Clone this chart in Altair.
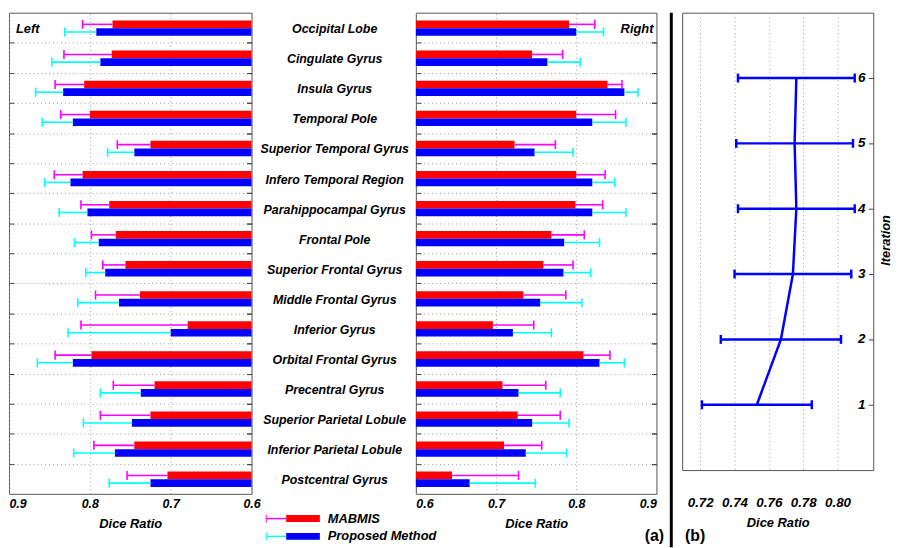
import altair as alt
import pandas as pd

FONT = "Liberation Sans"

regions = ["Occipital Lobe", "Cingulate Gyrus", "Insula Gyrus", "Temporal Pole",
           "Superior Temporal Gyrus", "Infero Temporal Region", "Parahippocampal Gyrus",
           "Frontal Pole", "Superior Frontal Gyrus", "Middle Frontal Gyrus", "Inferior Gyrus",
           "Orbital Frontal Gyrus", "Precentral Gyrus", "Superior Parietal Lobule",
           "Inferior Parietal Lobule", "Postcentral Gyrus"]
methods = ["MABMIS", "Proposed Method"]

left_mabmis_mean = [0.772, 0.773, 0.807, 0.800, 0.725, 0.809, 0.776, 0.768,
                    0.756, 0.738, 0.679, 0.798, 0.720, 0.725, 0.745, 0.704]
left_mabmis_std = [0.037, 0.059, 0.036, 0.036, 0.041, 0.035, 0.035, 0.030,
                   0.028, 0.055, 0.132, 0.045, 0.051, 0.062, 0.050, 0.050]
left_prop_mean = [0.792, 0.787, 0.833, 0.821, 0.745, 0.824, 0.803, 0.789,
                  0.781, 0.764, 0.700, 0.821, 0.737, 0.748, 0.769, 0.725]
left_prop_std = [0.039, 0.060, 0.034, 0.038, 0.033, 0.032, 0.035, 0.030,
                 0.024, 0.051, 0.127, 0.044, 0.050, 0.060, 0.051, 0.051]

right_mabmis_mean = [0.791, 0.745, 0.839, 0.800, 0.723, 0.800, 0.799, 0.769,
                     0.759, 0.734, 0.696, 0.809, 0.708, 0.727, 0.710, 0.645]
right_mabmis_std = [0.032, 0.038, 0.018, 0.049, 0.051, 0.036, 0.034, 0.041,
                    0.037, 0.053, 0.051, 0.033, 0.054, 0.053, 0.047, 0.083]
right_prop_mean = [0.800, 0.764, 0.860, 0.820, 0.748, 0.820, 0.820, 0.785,
                   0.784, 0.755, 0.721, 0.829, 0.728, 0.745, 0.737, 0.667]
right_prop_std = [0.034, 0.041, 0.017, 0.042, 0.048, 0.028, 0.042, 0.044,
                  0.034, 0.052, 0.048, 0.031, 0.052, 0.046, 0.051, 0.082]

iterations = [1, 2, 3, 4, 5, 6]
iter_mean = [0.753, 0.767, 0.774, 0.776, 0.775, 0.776]
iter_std = [0.032, 0.035, 0.034, 0.034, 0.034, 0.034]

x_ticks_a = [0.6, 0.7, 0.8, 0.9]
x_ticks_b = [0.72, 0.74, 0.76, 0.78, 0.80]

BAR_COLORS = ["#ff0000", "#0000ff"]
ERR_COLORS = ["#ff00ff", "#00ffff"]

# ---------- build table ----------
rows = []
sides = {"Left": [(left_mabmis_mean, left_mabmis_std), (left_prop_mean, left_prop_std)],
         "Right": [(right_mabmis_mean, right_mabmis_std), (right_prop_mean, right_prop_std)]}
for side, series in sides.items():
    for m, (mean, std) in enumerate(series):
        for i, r in enumerate(regions):
            y0 = i + 0.26 + 0.255 * m
            ymid = y0 + 0.1275
            rows.append(dict(side=side, method=methods[m], region=r, mean=mean[i],
                             hi=mean[i] + std[i], y0=y0, y1=y0 + 0.255, ymid=ymid,
                             cap0=ymid - 0.15, cap1=ymid + 0.15))
df = pd.DataFrame(rows)

W_A, H_A = 245, 486
W_MID = 166
W_R = 243
W_SP = 26
W_B, H_B = 193, 462

yscale = alt.Scale(domain=[0, 16], reverse=True, nice=False, zero=False)
fill_scale = alt.Scale(domain=methods, range=BAR_COLORS)
err_scale = alt.Scale(domain=methods, range=ERR_COLORS)

GRID = dict(grid=True, gridDash=[1, 3], gridColor="#9a9a9a", gridWidth=1)


def side_panel(side, reverse, width):
    d = df[df.side == side]
    xs = alt.Scale(domain=[0.6, 0.9], reverse=reverse, nice=False, zero=False)
    xaxis_kw = dict(values=x_ticks_a, format=".1f", title="Dice Ratio", tickSize=0,
                    labelPadding=4, titlePadding=8, domain=False, **GRID)
    if reverse:
        xaxis_kw["labelAlign"] = {"condition": {"test": "datum.value > 0.85", "value": "left"},
                                  "value": "center"}
    xaxis = alt.Axis(**xaxis_kw)
    y_left = alt.Axis(orient="left", offset=-5, tickSize=5, values=list(range(1, 16)),
                      labels=False, domain=False, title=None, tickColor="#444", **GRID)
    y_right = alt.Axis(orient="right", offset=-5, tickSize=5, values=list(range(1, 16)),
                       labels=False, domain=False, title=None, tickColor="#444", grid=False)
    base = alt.Chart(d)
    bars = base.mark_rect().encode(
        x=alt.X("mean:Q", scale=xs, axis=xaxis),
        x2=alt.datum(0.6),
        y=alt.Y("y0:Q", scale=yscale, axis=y_left),
        y2="y1:Q",
        fill=alt.Fill("method:N", scale=fill_scale, legend=None),
    )
    err = base.mark_rule(strokeWidth=1.6).encode(
        x=alt.X("mean:Q", scale=xs, axis=xaxis),
        x2="hi:Q",
        y=alt.Y("ymid:Q", scale=yscale, axis=y_right),
        stroke=alt.Stroke("method:N", scale=err_scale, legend=None),
    )
    caps = base.mark_rule(strokeWidth=1.6).encode(
        x=alt.X("hi:Q", scale=xs, axis=xaxis),
        y=alt.Y("cap0:Q", scale=yscale, axis=y_right),
        y2="cap1:Q",
        stroke=alt.Stroke("method:N", scale=err_scale, legend=None),
    )
    label_df = pd.DataFrame({"t": [side]})
    if reverse:
        lab = alt.Chart(label_df).mark_text(align="left", baseline="middle", font=FONT,
                                            fontSize=13, fontWeight="bold", fontStyle="italic",
                                            color="black").encode(
            x=alt.value(7), y=alt.value(16), text="t:N")
    else:
        lab = alt.Chart(label_df).mark_text(align="right", baseline="middle", font=FONT,
                                            fontSize=13, fontWeight="bold", fontStyle="italic",
                                            color="black").encode(
            x=alt.value(width - 3), y=alt.value(16), text="t:N")
    return alt.layer(bars, err, caps, lab).properties(width=width, height=H_A)


left = side_panel("Left", True, W_A)
right = side_panel("Right", False, W_R)

# ---------- middle: region names + legend ----------
center_df = pd.DataFrame({"region": regions, "ypos": [i + 0.55 for i in range(len(regions))]})
names = alt.Chart(center_df).mark_text(font=FONT, fontSize=12.5, fontWeight="bold",
                                       fontStyle="italic", color="black",
                                       baseline="middle", align="center").encode(
    x=alt.value(W_MID / 2 + 1),
    y=alt.Y("ypos:Q", scale=yscale, axis=None),
    text="region:N",
)
leg_df = pd.DataFrame({"method": methods, "row": [0, 1]})
leg_y = alt.Scale(domain=[0, 1], range=[511, 529])
leg_base = alt.Chart(leg_df)
leg_line = leg_base.mark_rule(strokeWidth=1.5).encode(
    x=alt.value(15), x2=alt.value(35),
    y=alt.Y("row:Q", scale=leg_y, axis=None),
    stroke=alt.Stroke("method:N", scale=err_scale, legend=None))
leg_cap = leg_base.mark_tick(orient="vertical", size=8, thickness=1.5).encode(
    x=alt.value(15),
    y=alt.Y("row:Q", scale=leg_y, axis=None),
    color=alt.Color("method:N", scale=err_scale, legend=None))
leg_bar = leg_base.mark_rule(strokeWidth=7).encode(
    x=alt.value(35), x2=alt.value(69),
    y=alt.Y("row:Q", scale=leg_y, axis=None),
    stroke=alt.Stroke("method:N", scale=alt.Scale(domain=methods, range=BAR_COLORS), legend=None))
leg_text = leg_base.mark_text(align="left", baseline="middle", font=FONT, fontSize=13,
                              fontWeight="bold", fontStyle="italic", color="black").encode(
    x=alt.value(77),
    y=alt.Y("row:Q", scale=leg_y, axis=None),
    text="method:N")
middle = alt.layer(names, leg_line, leg_cap, leg_bar, leg_text).resolve_scale(
    y="independent", stroke="independent").properties(
    width=W_MID, height=H_A, view=alt.ViewBackground(stroke="transparent"))

# ---------- spacer with separator + panel tags ----------
sp_df = pd.DataFrame({"a": ["(a)"], "b": ["(b)"]})
sep = alt.Chart(sp_df).mark_rule(color="black", strokeWidth=3).encode(
    x=alt.value(15), y=alt.value(0), y2=alt.value(540))
tag_a = alt.Chart(sp_df).mark_text(font=FONT, fontSize=16, fontWeight="bold", color="black",
                                   align="center", baseline="middle").encode(
    x=alt.value(-2), y=alt.value(529), text="a:N")
tag_b = alt.Chart(sp_df).mark_text(font=FONT, fontSize=16, fontWeight="bold", color="black",
                                   align="center", baseline="middle").encode(
    x=alt.value(39), y=alt.value(529), text="b:N")
spacer = alt.layer(sep, tag_a, tag_b).properties(
    width=W_SP, height=H_A, view=alt.ViewBackground(stroke="transparent"))

# ---------- panel (b) ----------
bdf = pd.DataFrame({"iter": iterations, "mean": iter_mean, "std": iter_std})
bdf["lo"] = bdf["mean"] - bdf["std"]
bdf["hi"] = bdf["mean"] + bdf["std"]
xsb = alt.Scale(domain=[0.7095, 0.8208], nice=False, zero=False)
ysb = alt.Scale(domain=[0, 7], nice=False, zero=False)
bx_axis = alt.Axis(values=x_ticks_b, format=".2f", title="Dice Ratio", tickSize=0,
                   labelPadding=26, titlePadding=8, labelFontSize=13.5, domain=False, **GRID)
by_axis = alt.Axis(orient="right", offset=-5, tickSize=5, values=iterations,
                   labels=False, domain=False, title=None, grid=False, tickColor="#444")
bbase = alt.Chart(bdf)
berr = bbase.mark_rule(color="#0000ff", strokeWidth=2.5).encode(
    x=alt.X("lo:Q", scale=xsb, axis=bx_axis), x2="hi:Q",
    y=alt.Y("iter:Q", scale=ysb, axis=by_axis))
bcap = bbase.transform_fold(["lo", "hi"], as_=["k", "v"]).mark_tick(
    orient="vertical", size=9, thickness=2.5, color="#0000ff", opacity=1).encode(
    x=alt.X("v:Q", scale=xsb, axis=bx_axis), y=alt.Y("iter:Q", scale=ysb, axis=by_axis))
bline = bbase.mark_line(color="#0000ff", strokeWidth=2.5).encode(
    x=alt.X("mean:Q", scale=xsb, axis=bx_axis),
    y=alt.Y("iter:Q", scale=ysb, axis=by_axis),
    order="iter:Q")
blabels = bbase.mark_text(font=FONT, fontSize=13.5, fontWeight="bold", fontStyle="italic",
                          color="black", align="right", baseline="middle").encode(
    x=alt.value(W_B - 8),
    y=alt.Y("iter:Q", scale=ysb, axis=by_axis),
    text=alt.Text("iter:Q", format="d"))
it_df = pd.DataFrame({"t": ["Iteration"]})
btitle = alt.Chart(it_df).mark_text(font=FONT, fontSize=13, fontWeight="bold",
                                    fontStyle="italic", color="black", angle=270,
                                    align="center", baseline="middle").encode(
    x=alt.value(W_B + 13), y=alt.value(230), text="t:N")
panel_b = alt.layer(berr, bcap, bline, blabels, btitle).properties(width=W_B, height=H_B)

chart = alt.hconcat(left, middle, right, spacer, panel_b, spacing=0, bounds="flush").properties(
    padding={"left": 0, "top": 0, "right": 4, "bottom": 0}
).configure_view(stroke="#555555", strokeWidth=1).configure_axis(
    labelFont=FONT, labelFontWeight="bold", labelFontStyle="italic", labelFontSize=12.5,
    labelColor="black", titleFont=FONT, titleFontWeight="bold", titleFontStyle="italic",
    titleFontSize=13, titleColor="black"
)

chart.save("out.html", embed_options={"renderer": "svg", "actions": False})
